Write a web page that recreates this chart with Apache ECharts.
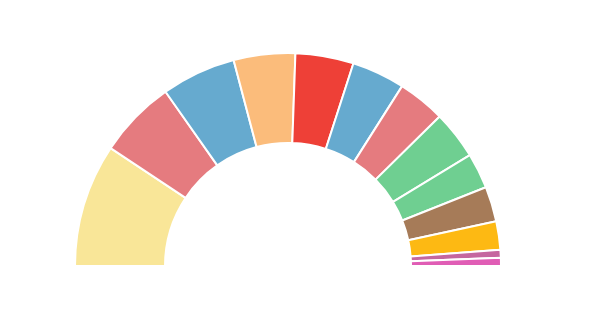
<!DOCTYPE html>
<html>
<head>
<meta charset="utf-8">
<script src="https://cdn.jsdelivr.net/npm/echarts@6/dist/echarts.min.js"></script>
<style>html,body{margin:0;padding:0;background:#fff}#c{width:600px;height:322px}</style>
</head>
<body>
<div id="c"></div>
<script>
const names = ['A','B','C','D','E','F','G','H','I','J','K','L','M'];
const values = [33.6, 21.3, 20.3, 16.8, 15.9, 14.5, 13.0, 13.2, 9.7, 9.6, 7.7, 2.2, 2.2];
const colors = ['#f9e698','#e57b7f','#66aacf','#fbbc7b','#ee4037','#66aacf','#e57b7f','#6fcf91','#6fcf91','#a67b58','#fdb913','#c5669f','#e05db5'];

const chart = echarts.init(document.getElementById('c'));
chart.setOption({
  animation: false,
  series: [{
    type: 'pie',
    center: [288, 266],
    radius: [123, 213],
    startAngle: 180,
    endAngle: 360,
    label: { show: false },
    labelLine: { show: false },
    itemStyle: { borderColor: '#fff', borderWidth: 2 },
    data: names.map((n, i) => ({ name: n, value: values[i], itemStyle: { color: colors[i] } }))
  }]
});
</script>
</body>
</html>
